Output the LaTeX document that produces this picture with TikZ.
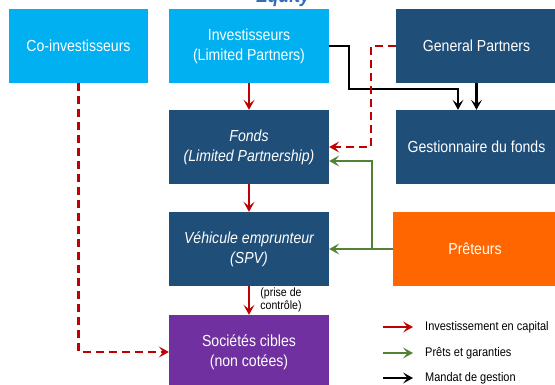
\documentclass[tikz,border=0pt]{standalone}
\usepackage{fontspec}
\setmainfont{Liberation Sans}[FakeStretch=0.88]
\usetikzlibrary{arrows.meta,calc}
\definecolor{lblue}{HTML}{00B0F0}
\definecolor{dblue}{HTML}{1F4E79}
\definecolor{orng}{HTML}{FF6600}
\definecolor{purp}{HTML}{7030A0}
\definecolor{redc}{HTML}{C00000}
\definecolor{grn}{HTML}{548235}
\definecolor{eqblue}{HTML}{2F6EBA}
\tikzset{
  box/.style={draw=none, text=white, align=center, inner sep=0pt,
    font=\fontsize{16}{20}\selectfont},
  tip/.style={-{Stealth[length=10pt,width=11pt,inset=4.5pt]}},
  redarr/.style={tip, draw=redc, line width=2.2pt},
  reddash/.style={redarr, dash pattern=on 8pt off 5pt},
  grnarr/.style={tip, draw=grn, line width=2.2pt},
  blkarr/.style={tip, draw=black, line width=2.2pt},
  legtxt/.style={anchor=west, inner sep=0pt, font=\fontsize{12.5}{14}\selectfont}
}
\begin{document}
\begin{tikzpicture}[x=1pt,y=-1pt]
\useasboundingbox (0,0) rectangle (555,385);
\clip (0,0) rectangle (555,385);
\fill[white] (0,0) rectangle (555,385);
\node[anchor=base, inner sep=0pt, text=eqblue, font=\bfseries\itshape\fontsize{20}{20}\selectfont] (eq) at (283,2.5) {Equity};
% boxes
\node[box, fill=lblue, minimum width=139pt, minimum height=74pt] (coinv) at (78.5,46) {Co-investisseurs};
\node[box, fill=lblue, minimum width=160pt, minimum height=74pt] (inv) at (249,46) {Investisseurs\\(Limited Partners)};
\node[box, fill=dblue, minimum width=161pt, minimum height=74pt] (gp) at (476.5,46) {General Partners};
\node[box, fill=dblue, minimum width=160pt, minimum height=74pt] (fonds) at (249,147) {\itshape Fonds\\\itshape (Limited Partnership)};
\node[box, fill=dblue, minimum width=161pt, minimum height=74pt] (gest) at (476.5,147) {Gestionnaire du fonds};
\node[box, fill=dblue, minimum width=160pt, minimum height=74pt] (veh) at (249,249) {\itshape Véhicule emprunteur\\\itshape (SPV)};
\node[box, fill=orng, minimum width=164pt, minimum height=74pt] (pret) at (475,249) {Prêteurs};
\node[box, fill=purp, minimum width=160pt, minimum height=74pt] (soc) at (249,352) {Sociétés cibles\\(non cotées)};
% connectors
\coordinate (j1) at (349,89);
\coordinate (j2) at (371,100);
\coordinate (g1) at (372,249);
\draw[redarr] (inv.south) -- (fonds.north);
\draw[redarr] (fonds.south) -- (veh.north);
\draw[redarr] (veh.south) -- (soc.north);
\node[inner sep=0pt, align=center, font=\fontsize{12}{11}\selectfont] (prise) at (281,300) {(prise de\\contrôle)};
\draw[blkarr] (inv.east) -| (j1) -| ([xshift=-18.5pt]gest.north);
\draw[blkarr] (gp.south) -- (gest.north);
\draw[reddash] (gp.west) -| (j2) |- (fonds.east);
\draw[grnarr] (pret.west) -- (veh.east);
\draw[grnarr] (g1) |- ([yshift=-14pt]fonds.east);
\draw[reddash] (coinv.south) |- (soc.west);
% legend
\coordinate (l1a) at (383,327); \coordinate (l1b) at (413,327);
\coordinate (l2a) at (383,353); \coordinate (l2b) at (413,353);
\coordinate (l3a) at (383,378); \coordinate (l3b) at (413,378);
\draw[redarr] (l1a) -- (l1b);
\draw[grnarr] (l2a) -- (l2b);
\draw[blkarr] (l3a) -- (l3b);
\node[legtxt] (t1) at (425,327) {Investissement en capital};
\node[legtxt] (t2) at (425,353) {Prêts et garanties};
\node[legtxt] (t3) at (425,378) {Mandat de gestion};
\end{tikzpicture}
\end{document}
